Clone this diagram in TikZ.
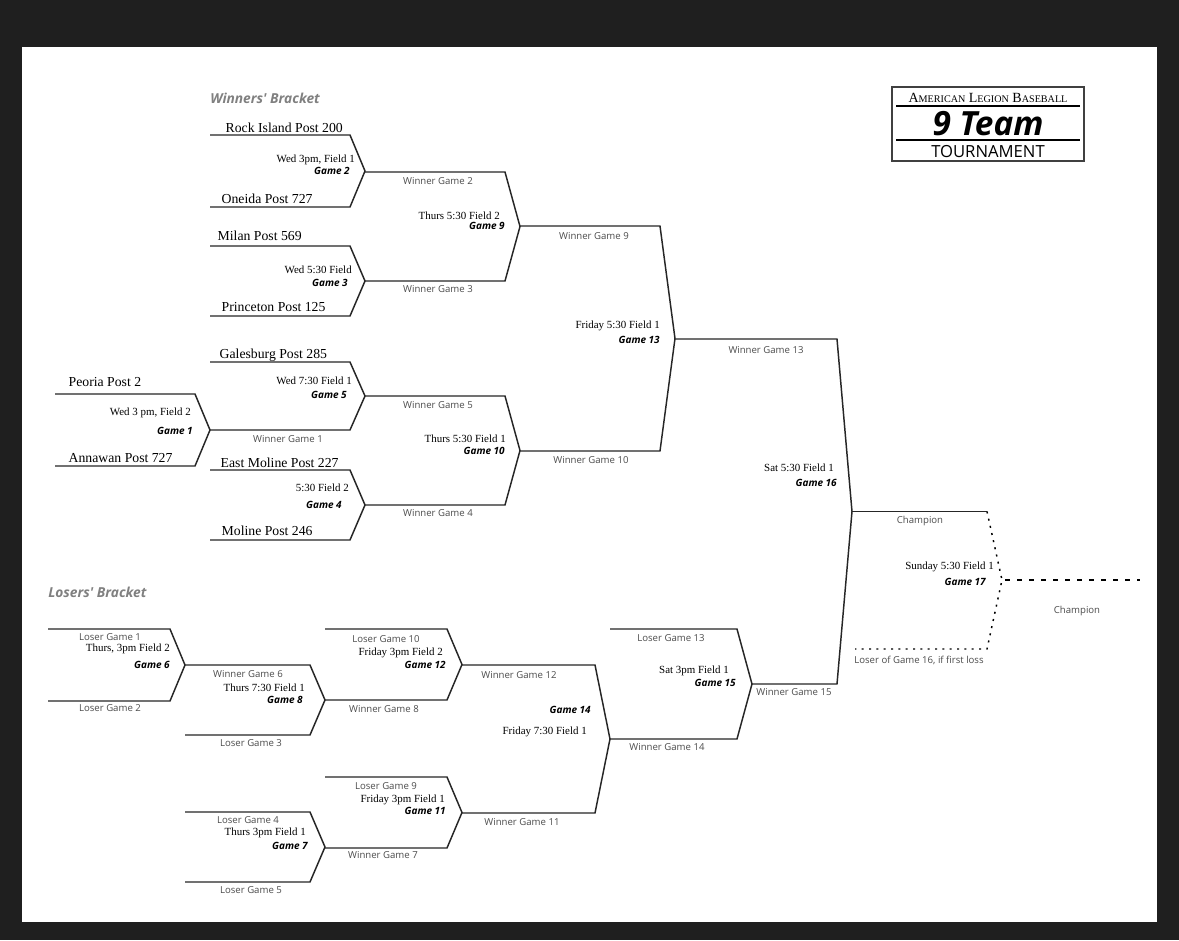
\documentclass[tikz,border=0pt]{standalone}
\usepackage{fontspec}
\setmainfont{Liberation Serif}
\newfontfamily\osans{Open Sans}
\newcommand{\scx}[2]{#1{\fontsize{7.6}{9}\selectfont #2}}
\begin{document}
\begin{tikzpicture}[x=0.75pt,y=-0.75pt,
  br/.style={line width=1.1pt,black!85},
  team/.style={anchor=base west,font=\fontsize{10.3}{12}\selectfont},
  tm/.style={anchor=east,font=\fontsize{8.2}{9}\selectfont,inner sep=0pt},
  gl/.style={anchor=east,font=\osans\bfseries\itshape\fontsize{7.5}{9}\selectfont,inner sep=0pt},
  sl/.style={font=\osans\fontsize{7.2}{8}\selectfont,text=black!70,inner sep=0pt},
  ttl/.style={anchor=west,font=\osans\bfseries\itshape\fontsize{10.3}{12}\selectfont,text=black!50,inner sep=0pt}]
\newcommand{\gmx}[5]{\draw[br] (#1,#4)--(#2,#4)--({#2+15},{(#4+#5)/2})--(#2,#5)--(#1,#5);}
\useasboundingbox (0,0) rectangle (1179,940);
\fill[black!88] (0,0) rectangle (1179,940);
\fill[white] (22,47) rectangle (1157,922);
% winners
\gmx{210}{350}{0}{135}{207}
\gmx{210}{350}{0}{246}{316}
\gmx{210}{350}{0}{362}{430}
\gmx{210}{350}{0}{470}{540}
\gmx{55}{195}{0}{394}{466}
\gmx{365}{505}{0}{172}{281}
\gmx{365}{505}{0}{396}{505}
\gmx{520}{660}{0}{226}{451}
\draw[br] (675,339)--(837,339)--(852,511.5)--(837,684)--(752,684);
\draw[br] (852,511.5)--(987,511.5);
\draw[line width=1.1pt,dash pattern=on 1.5pt off 4pt] (987,511.5)--(1002,580)--(987,649)--(855,649);
\draw[line width=1pt,dash pattern=on 4pt off 5pt] (1005,580)--(1140,580);
% losers
\gmx{48}{170}{0}{629}{701}
\gmx{185}{310}{0}{665}{735}
\gmx{185}{310}{0}{812}{882}
\gmx{325}{447}{0}{629}{700}
\gmx{325}{447}{0}{777}{848}
\gmx{462}{595}{0}{665}{813}
\gmx{610}{737}{0}{629}{739}
% titles
\node[ttl] (t1) at (210,98) {Winners' Bracket};
\node[ttl] (t2) at (48,592) {Losers' Bracket};
% teams
\node[team] (a) at (221,132) {Rock Island Post 200};
\node[team] (b) at (217,203) {Oneida Post 727};
\node[team] (c) at (213,240) {Milan Post 569};
\node[team] (d) at (217,311) {Princeton Post 125};
\node[team] (e) at (215,358) {Galesburg Post 285};
\node[team] (f) at (64,386) {Peoria Post 2};
\node[team] (g) at (64,462) {Annawan Post 727};
\node[team] (h) at (216,467) {East Moline Post 227};
\node[team] (i) at (217,535) {Moline Post 246};
% game labels
\node[tm] at (355,160) {Wed 3pm, Field 1}; \node[gl] at (350,171) {Game 2};
\node[tm] at (500,216) {Thurs 5:30 Field 2}; \node[gl] at (505,226) {Game 9};
\node[tm] at (352,270) {Wed 5:30 Field}; \node[gl] at (348,283) {Game 3};
\node[tm] at (660,326) {Friday 5:30 Field 1}; \node[gl] at (660,340) {Game 13};
\node[tm] at (352,381) {Wed 7:30 Field 1}; \node[gl] at (347,395) {Game 5};
\node[tm] at (191,413) {Wed 3 pm, Field 2}; \node[gl] at (193,431) {Game 1};
\node[tm] at (506,439) {Thurs 5:30 Field 1}; \node[gl] at (505,451) {Game 10};
\node[tm] at (349,488) {5:30 Field 2}; \node[gl] at (342,505) {Game 4};
\node[tm] at (834,468) {Sat 5:30 Field 1}; \node[gl] at (837,483) {Game 16};
\node[tm] at (994,567) {Sunday 5:30 Field 1}; \node[gl] at (986,582) {Game 17};
\node[tm] at (170,649) {Thurs, 3pm Field 2}; \node[gl] at (170,665) {Game 6};
\node[tm] at (305,688) {Thurs 7:30 Field 1}; \node[gl] at (303,700) {Game 8};
\node[tm] at (443,653) {Friday 3pm Field 2}; \node[gl] at (446,665) {Game 12};
\node[gl] at (591,710) {Game 14}; \node[tm] at (587,732) {Friday 7:30 Field 1};
\node[tm] at (445,800) {Friday 3pm Field 1}; \node[gl] at (446,811) {Game 11};
\node[tm] at (306,833) {Thurs 3pm Field 1}; \node[gl] at (308,846) {Game 7};
\node[tm] at (729,671) {Sat 3pm Field 1}; \node[gl] at (736,683) {Game 15};
% small labels
\node[sl] at (438,181) {Winner Game 2};
\node[sl] at (594,236) {Winner Game 9};
\node[sl] at (438,289) {Winner Game 3};
\node[sl] at (766,350) {Winner Game 13};
\node[sl] at (438,405) {Winner Game 5};
\node[sl] at (288,439) {Winner Game 1};
\node[sl] at (591,460) {Winner Game 10};
\node[sl] at (438,513) {Winner Game 4};
\node[sl] at (920,521) {Champion};
\node[sl] at (1077,611) {Champion};
\node[sl] at (919,660) {Loser of Game 16, if first loss};
\node[sl] at (110,637) {Loser Game 1};
\node[sl] at (110,708) {Loser Game 2};
\node[sl] at (248,674) {Winner Game 6};
\node[sl] at (251,743) {Loser Game 3};
\node[sl] at (386,639) {Loser Game 10};
\node[sl] at (384,709) {Winner Game 8};
\node[sl] at (519,675) {Winner Game 12};
\node[sl] at (386,786) {Loser Game 9};
\node[sl] at (522,822) {Winner Game 11};
\node[sl] at (248,820) {Loser Game 4};
\node[sl] at (383,855) {Winner Game 7};
\node[sl] at (251,890) {Loser Game 5};
\node[sl] at (671,638) {Loser Game 13};
\node[sl] at (667,747) {Winner Game 14};
\node[sl] at (794,692) {Winner Game 15};
% logo
\draw[line width=0.8pt,black!75] (892,87) rectangle (1084,161);
\node[font=\fontsize{10.5}{11}\selectfont,inner sep=0pt] (l1) at (988,98) {\scx{A}{MERICAN} \scx{L}{EGION} \scx{B}{ASEBALL}};
\draw[line width=0.8pt] (896,106)--(1080,106);
\node[font=\osans\bfseries\itshape\fontsize{25}{28}\selectfont,inner sep=0pt] (l2) at (988,124) {9 Team};
\draw[line width=0.8pt] (896,140)--(1080,140);
\node[font=\osans\fontsize{12.5}{14}\selectfont,inner sep=0pt] (l3) at (988,152) {TOURNAMENT};
\end{tikzpicture}
\end{document}
